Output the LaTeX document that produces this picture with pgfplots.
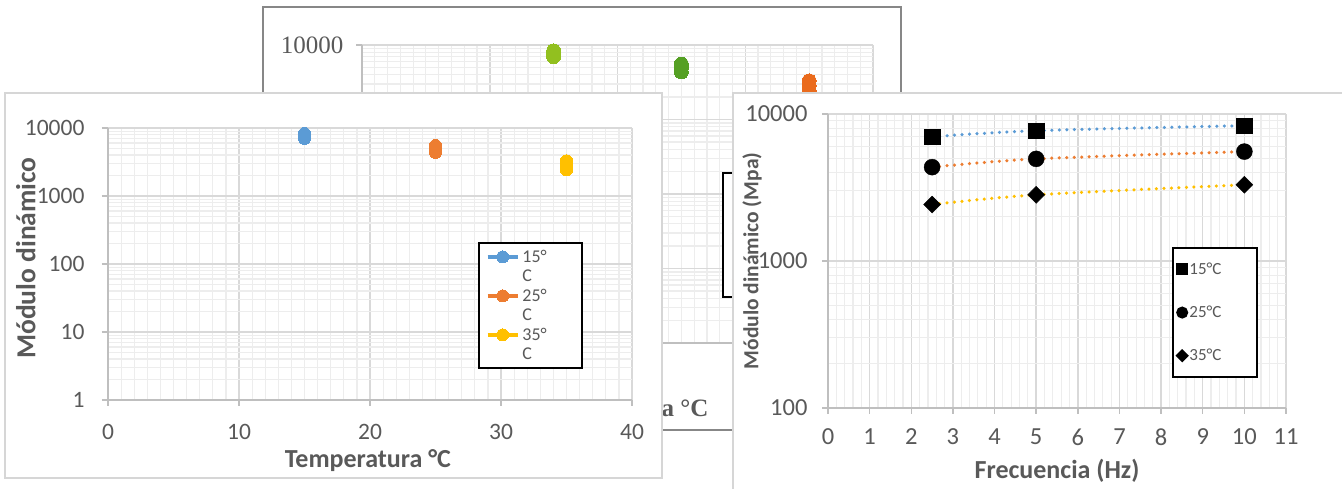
\documentclass[border=0pt]{standalone}
\usepackage{fontspec}
\setmainfont{Carlito}
\newfontfamily\timesface{Liberation Serif}
\usepackage{pgfplots}
\usepackage{pgfplotstable}
\pgfplotsset{compat=1.18}

\definecolor{txtgray}{HTML}{595959}
\definecolor{axgray}{HTML}{BFBFBF}
\definecolor{majgrid}{HTML}{D9D9D9}
\definecolor{mingrid}{HTML}{EDEDED}
\definecolor{framegray}{HTML}{D6D6D6}
\definecolor{backframe}{HTML}{878787}
\definecolor{xlblue}{HTML}{5B9BD5}
\definecolor{xlorange}{HTML}{ED7D31}
\definecolor{xlyellow}{HTML}{FFC000}
\definecolor{ltgreen}{HTML}{92C01F}
\definecolor{dkgreen}{HTML}{55A024}
\definecolor{bkorange}{HTML}{EA6B1D}

% Dynamic modulus (MPa) by loading frequency (Hz)
\pgfplotstableread{
freq  t15   t25   t35
2.5   7000  4350  2420
5     7700  4950  2820
10    8330  5550  3300
}\modulus

\begin{document}
\begin{tikzpicture}
\useasboundingbox (0pt,0pt) rectangle (1342pt,489pt);
\fill[white] (0pt,0pt) rectangle (1342pt,489pt);

% ---------------- chart in the back
\filldraw[fill=white, draw=backframe, line width=2.5pt] (263pt,59pt) rectangle (901pt,482pt);
\begin{axis}[
  scale only axis, ymode=log,
  at={(362pt,146pt)}, anchor=south west, width=511pt, height=298pt,
  xmin=0, xmax=40, ymin=1, ymax=10000,
  axis lines*=left,
  axis line style={-, axgray, line width=1.5pt},
  tick style={axgray, line width=1.5pt},
  major tick length=6pt, minor tick length=0pt, tick align=outside,
  grid=both,
  major grid style={majgrid, line width=1.5pt},
  minor grid style={mingrid, line width=1.2pt},
  xtick={0,10,20,30,40}, minor x tick num=9,
  xticklabels={0,10,20,30,40},
  ytick={1,10,100,1000,10000},
  minor ytick={2,3,4,5,6,7,8,9,20,30,40,50,60,70,80,90,200,300,400,500,600,700,800,900,2000,3000,4000,5000,6000,7000,8000,9000},
  yticklabels={1,10,100,1000,10000},
  tick label style={font=\timesface\fontsize{25}{28}\selectfont, text=txtgray},
  yticklabel style={xshift=-9pt},
  clip=false,
  xlabel={Temperatura °C},
  xlabel style={font=\timesface\bfseries\fontsize{25}{28}\selectfont, text=txtgray,
    at={(axis description cs:0.685,-0.248)}, anchor=base east},
  legend style={at={(0.7045,0.574)}, anchor=north west, draw=black, line width=2pt, fill=white,
    font=\timesface\fontsize{18}{19}\selectfont, text=txtgray, cells={anchor=west},
    inner xsep=7pt, inner ysep=8pt, row sep=28pt},
  legend image code/.code={\draw[mark repeat=2,mark phase=2,#1] plot coordinates {(0pt,0pt) (17pt,0pt) (34pt,0pt)};},
]
\addplot[ltgreen, line width=3.5pt, mark=*, mark size=7pt, mark options={fill=ltgreen, draw=ltgreen, line width=0pt}]
  coordinates {(15,7000) (15,7700) (15,8330)};
\addlegendentry{15°C}
\addplot[dkgreen, line width=3.5pt, mark=*, mark size=7pt, mark options={fill=dkgreen, draw=dkgreen, line width=0pt}]
  coordinates {(25,4350) (25,4950) (25,5550)};
\addlegendentry{25°C}
\addplot[bkorange, line width=3.5pt, mark=*, mark size=7pt, mark options={fill=bkorange, draw=bkorange, line width=0pt}]
  coordinates {(35,2420) (35,2820) (35,3300)};
\addlegendentry{35°C}
\end{axis}

% ---------------- left chart: modulus vs temperature
\filldraw[fill=white, draw=framegray, line width=2pt] (5pt,11pt) rectangle (662pt,396pt);
\begin{axis}[
  scale only axis, ymode=log,
  at={(108pt,89pt)}, anchor=south west, width=524pt, height=272pt,
  xmin=0, xmax=40, ymin=1, ymax=10000,
  axis lines*=left,
  axis line style={-, axgray, line width=1.5pt},
  tick style={axgray, line width=1.5pt},
  major tick length=6pt, minor tick length=0pt, tick align=outside,
  grid=both,
  major grid style={majgrid, line width=1.5pt},
  minor grid style={mingrid, line width=1.2pt},
  xtick={0,10,20,30,40}, minor x tick num=9,
  xticklabels={0,10,20,30,40},
  ytick={1,10,100,1000,10000},
  minor ytick={2,3,4,5,6,7,8,9,20,30,40,50,60,70,80,90,200,300,400,500,600,700,800,900,2000,3000,4000,5000,6000,7000,8000,9000},
  yticklabels={1,10,100,1000,10000},
  tick label style={font=\fontsize{23.5}{26}\selectfont, text=txtgray},
  yticklabel style={xshift=-14pt},
  xticklabel style={yshift=-15pt},
  clip=false,
  xlabel={Temperatura °C}, ylabel={Módulo dinámico},
  label style={font=\bfseries\fontsize{26}{30}\selectfont, text=txtgray},
  xlabel style={at={(axis description cs:0.496,-0.221)}, anchor=center},
  ylabel style={font=\bfseries\fontsize{27.5}{30}\selectfont, at={(axis description cs:-0.157,0.522)}, anchor=center},
  legend style={at={(0.706,0.581)}, anchor=north west, draw=black, line width=2pt, fill=white,
    font=\fontsize{18}{19}\selectfont, text=txtgray, cells={anchor=west},
    inner xsep=7pt, inner ysep=5pt, row sep=2pt, column sep=1pt},
  legend image code/.code={\draw[mark repeat=2,mark phase=2,#1] plot coordinates {(0pt,0pt) (15pt,0pt) (30pt,0pt)};},
]
\addplot[xlblue, line width=3.5pt, mark=*, mark size=6pt, mark options={fill=xlblue, draw=xlblue, line width=0pt}]
  coordinates {(15,7000) (15,7700) (15,8330)};
\addlegendentry{15°\hspace*{26pt}}
\addlegendimage{empty legend}
\addlegendentry{C}
\addplot[xlorange, line width=3.5pt, mark=*, mark size=6pt, mark options={fill=xlorange, draw=xlorange, line width=0pt}]
  coordinates {(25,4350) (25,4950) (25,5550)};
\addlegendentry{25°}
\addlegendimage{empty legend}
\addlegendentry{C}
\addplot[xlyellow, line width=3.5pt, mark=*, mark size=6pt, mark options={fill=xlyellow, draw=xlyellow, line width=0pt}]
  coordinates {(35,2420) (35,2820) (35,3300)};
\addlegendentry{35°}
\addlegendimage{empty legend}
\addlegendentry{C}
\end{axis}

% ---------------- right chart: modulus vs frequency
\fill[white] (733pt,0pt) rectangle (1342pt,396pt);
\draw[framegray, line width=2pt] (733pt,0pt) -- (733pt,396pt) -- (1342pt,396pt);
\begin{axis}[
  scale only axis, ymode=log,
  at={(828pt,81pt)}, anchor=south west, width=458pt, height=294pt,
  xmin=0, xmax=11, ymin=100, ymax=10000,
  axis lines*=left,
  axis line style={-, axgray, line width=1.5pt},
  tick style={axgray, line width=1.5pt},
  major tick length=6pt, minor tick length=0pt, tick align=outside,
  grid=both,
  major grid style={majgrid, line width=1.5pt},
  minor grid style={mingrid, line width=1.2pt},
  xtick={0,1,2,3,4,5,6,7,8,9,10,11}, minor x tick num=4,
  xticklabels={0,1,2,3,4,5,6,7,8,9,10,11},
  ytick={100,1000,10000},
  minor ytick={200,300,400,500,600,700,800,900,2000,3000,4000,5000,6000,7000,8000,9000},
  yticklabels={100,1000,10000},
  tick label style={font=\fontsize{24.5}{27}\selectfont, text=txtgray},
  yticklabel style={xshift=-11pt},
  xticklabel style={yshift=-11pt},
  clip=false,
  xlabel={Frecuencia (Hz)}, ylabel={Módulo dinámico (Mpa)},
  xlabel style={font=\bfseries\fontsize{26}{30}\selectfont, text=txtgray,
    at={(axis description cs:0.5,-0.215)}, anchor=center},
  ylabel style={font=\bfseries\fontsize{21.5}{25}\selectfont, text=txtgray,
    at={(axis description cs:-0.166,0.5)}, anchor=center},
  legend style={at={(0.751,0.548)}, anchor=north west, draw=black, line width=2pt, fill=white,
    font=\fontsize{17}{18}\selectfont, text=txtgray, cells={anchor=west},
    inner xsep=4pt, inner ysep=13pt, row sep=26pt, column sep=0pt},
]
\addplot[only marks, mark=square*, mark size=7.8pt, black, forget plot] table[x=freq, y=t15] {\modulus};
\addplot[only marks, mark=*, mark size=8pt, black, forget plot] table[x=freq, y=t25] {\modulus};
\addplot[only marks, mark=square*, mark size=6pt, mark options={rotate=45}, black, forget plot] table[x=freq, y=t35] {\modulus};
% dotted trend curves drawn over the markers
\addplot[xlblue, line width=3.5pt, line cap=round, dash pattern=on 0pt off 7.5pt, smooth, forget plot] table[x=freq, y=t15] {\modulus};
\addplot[xlorange, line width=3.5pt, line cap=round, dash pattern=on 0pt off 7.5pt, smooth, forget plot] table[x=freq, y=t25] {\modulus};
\addplot[xlyellow, line width=3.5pt, line cap=round, dash pattern=on 0pt off 7.5pt, smooth, forget plot] table[x=freq, y=t35] {\modulus};
\addlegendimage{only marks, mark=square*, mark size=5pt, black}
\addlegendentry{15°C\hspace*{30pt}}
\addlegendimage{only marks, mark=*, mark size=5pt, black}
\addlegendentry{25°C}
\addlegendimage{only marks, mark=square*, mark size=3.7pt, mark options={rotate=45}, black}
\addlegendentry{35°C}
\end{axis}
\end{tikzpicture}
\end{document}
